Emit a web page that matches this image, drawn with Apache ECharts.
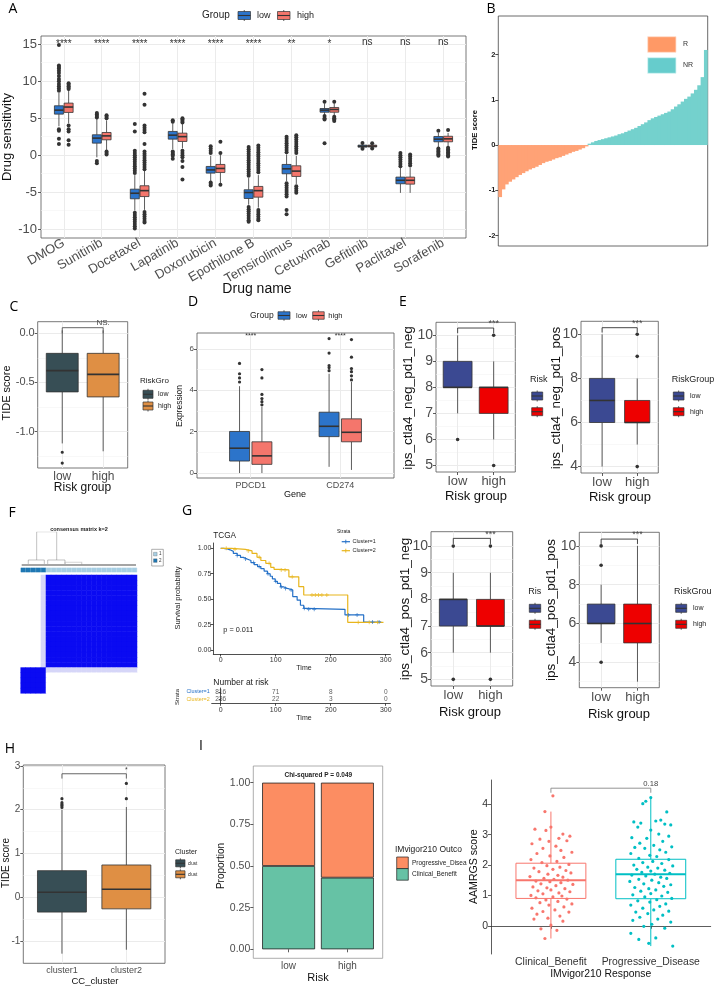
<!DOCTYPE html>
<html>
<head>
<meta charset="utf-8">
<script src="https://cdn.jsdelivr.net/npm/echarts@6/dist/echarts.min.js"></script>
<style>
html, body { margin: 0; padding: 0; background: #fff; }
#main { width: 714px; height: 987px; }
</style>
</head>
<body>
<div id="main"></div>
<script>
// ---------- A: drug sensitivity by group ----------
var drugNames = ['DMOG', 'Sunitinib', 'Docetaxel', 'Lapatinib', 'Doxorubicin', 'Epothilone B',
  'Temsirolimus', 'Cetuximab', 'Gefitinib', 'Paclitaxel', 'Sorafenib'];
var drugTicks = [-10, -5, 0, 5, 10, 15];
var drugMinor = [-7.5, -2.5, 2.5, 7.5, 12.5];
// [min, q1, median, q3, max]
var drugLow = [
  [3.9, 5.54, 6.08, 6.67, 8.4], [-0.3, 1.62, 2.3, 2.75, 4.9], [-7.5, -5.9, -5.15, -4.6, -2.7],
  [0.8, 2.16, 2.7, 3.2, 4.3], [-3.5, -2.43, -2.0, -1.53, -0.1], [-6.7, -5.86, -5.05, -4.68, -3.1],
  [-3.5, -2.52, -1.85, -1.26, 0.1], [5.4, 5.8, 6.08, 6.3, 7.0], [0.95, 1.08, 1.2, 1.35, 1.5],
  [-5.1, -3.87, -3.4, -2.97, -1.7], [1.1, 1.8, 2.16, 2.52, 3.0]
];
var drugHigh = [
  [4.3, 5.77, 6.5, 7.03, 8.8], [0.7, 2.07, 2.6, 3.06, 4.7], [-7.4, -5.6, -4.8, -4.14, -2.0],
  [0.9, 1.85, 2.5, 2.97, 4.2], [-3.8, -2.34, -1.8, -1.26, 0.1], [-7.1, -5.68, -4.8, -4.23, -2.7],
  [-3.9, -2.88, -2.16, -1.44, -0.1], [5.4, 5.8, 6.17, 6.44, 7.0], [0.95, 1.1, 1.22, 1.35, 1.5],
  [-5.1, -3.92, -3.4, -2.97, -1.7], [1.1, 1.8, 2.2, 2.55, 3.0]
];
var drugLowOut = [
  [0, 14.9], [0, 12.1], [0, 11.9], [0, 11.7], [0, 11.4], [0, 11.1], [0, 10.7], [0, 10.3], [0, 10.0], [0, 9.6], [0, 9.3], [0, 9.0], [0, 8.7], [0, 3.5], [0, 3.3], [0, 2.2], [0, 1.5],
  [1, 5.7], [1, 5.5], [1, 5.3], [1, 5.1], [1, -0.8], [1, -1.1],
  [2, 4.2], [2, 3.2], [2, 0.6], [2, 0.3], [2, 0.0], [2, -0.3], [2, -0.6], [2, -0.9], [2, -1.2], [2, -1.5], [2, -1.8], [2, -2.1], [2, -2.4],
  [2, -7.8], [2, -8.1], [2, -8.4], [2, -8.7], [2, -9.0], [2, -9.3], [2, -9.6], [2, -9.9],
  [3, 4.7], [3, 4.5], [3, 0.5], [3, 0.3], [3, 0.1], [3, -0.1], [3, -0.5],
  [4, 1.2], [4, 0.9], [4, 0.6], [4, 0.3], [4, -3.7], [4, -3.9], [4, -4.1],
  [5, 1.1], [5, 0.8], [5, 0.5], [5, 0.2], [5, -0.1], [5, -0.4], [5, -0.7], [5, -1.0], [5, -1.3], [5, -1.6], [5, -1.9], [5, -2.2], [5, -2.5], [5, -2.8],
  [5, -7.0], [5, -7.3], [5, -7.6], [5, -7.9], [5, -8.2], [5, -8.5], [5, -8.8], [5, -9.0],
  [6, 2.5], [6, 2.2], [6, 1.9], [6, 1.6], [6, 1.3], [6, 1.0], [6, 0.7], [6, 0.4],
  [6, -3.8], [6, -4.1], [6, -4.4], [6, -4.7], [6, -5.0], [6, -5.3], [6, -5.6], [6, -7.4], [6, -8.0],
  [7, 7.2], [7, 5.3], [7, 5.0], [7, 4.8], [7, 1.6],
  [8, 1.65], [8, 0.85],
  [9, 0.3], [9, 0.0], [9, -0.3], [9, -0.6], [9, -0.9], [9, -1.2], [9, -1.5],
  [10, 3.3], [10, 0.9], [10, 0.7], [10, 0.5], [10, 0.3], [10, 0.1], [10, -0.1]
];
var drugHighOut = [
  [0, 9.7], [0, 9.5], [0, 9.3], [0, 9.1], [0, 8.95], [0, 4.0], [0, 3.5], [0, 3.2], [0, 2.0], [0, 1.4],
  [1, 5.4], [1, 5.2], [1, 5.0], [1, 0.5], [1, 0.3], [1, 0.1],
  [2, 8.3], [2, 6.8], [2, 4.0], [2, 3.7], [2, 3.4], [2, 3.1], [2, 1.5], [2, 0.5], [2, 0.2], [2, -0.1], [2, -0.4], [2, -0.7], [2, -1.0], [2, -1.3], [2, -1.6], [2, -1.9],
  [2, -7.7], [2, -8.0], [2, -8.3], [2, -8.6], [2, -8.9], [2, -9.1],
  [3, 5.0], [3, 4.8], [3, 4.6], [3, 4.4], [3, 0.6], [3, 0.3], [3, 0.0], [3, -0.3], [3, -0.8], [3, -1.6], [3, -3.3],
  [4, 1.8], [4, 0.3], [4, -4.0],
  [5, 1.3], [5, 1.0], [5, 0.7], [5, 0.4], [5, 0.1], [5, -0.2], [5, -0.5], [5, -0.8], [5, -1.1], [5, -1.4], [5, -1.7], [5, -2.0], [5, -2.3],
  [5, -7.4], [5, -7.7], [5, -8.0], [5, -8.3], [5, -8.6], [5, -8.8],
  [6, 2.7], [6, 2.4], [6, 2.1], [6, 1.8], [6, 1.5], [6, 1.2], [6, 0.9], [6, 0.6], [6, 0.3],
  [6, -4.2], [6, -4.5], [6, -4.8], [6, -5.1],
  [7, 7.2], [7, 5.2], [7, 5.0], [7, 4.8], [7, 4.6],
  [8, 1.6], [8, 0.9],
  [9, 0.1], [9, -0.2], [9, -0.5], [9, -0.8], [9, -1.1], [9, -1.4],
  [10, 3.4], [10, 1.0], [10, 0.8], [10, 0.6], [10, 0.4], [10, 0.2], [10, 0.0], [10, -0.2]
];
var drugSig = ['****', '****', '****', '****', '****', '****', '**', '*', 'ns', 'ns', 'ns'];
var drugSigY = [15.0, 15.0, 15.0, 15.0, 15.0, 15.0, 15.0, 15.0, 15.2, 15.2, 15.2];

// ---------- B: TIDE waterfall ----------
var tideR = [-1.15, -0.98, -0.87, -0.81, -0.76, -0.71, -0.66, -0.62, -0.58, -0.54, -0.51, -0.48, -0.44, -0.40,
  -0.37, -0.35, -0.32, -0.29, -0.27, -0.24, -0.21, -0.18, -0.15, -0.13, -0.10, -0.07, -0.03];
var tideNR = [0.03, 0.06, 0.09, 0.11, 0.13, 0.15, 0.17, 0.19, 0.21, 0.24, 0.26, 0.29, 0.32, 0.35, 0.38, 0.42,
  0.46, 0.50, 0.55, 0.59, 0.62, 0.65, 0.68, 0.71, 0.74, 0.79, 0.85, 0.90, 0.96, 1.02, 1.07, 1.14, 1.22, 1.32, 1.50, 2.10];
var tideTicks = [-2, -1, 0, 1, 2];

// ---------- C: TIDE by risk group ----------
var riskCats = ['low', 'high'];
var cStats = [[-1.12, -0.596, -0.38, -0.204, 0.03], [-1.2, -0.647, -0.418, -0.204, 0.03]];
var cOut = [[0, -1.21], [0, -1.32]];
var cTicks = [-1, -0.5, 0];
var cMinor = [-1.25, -0.75, -0.25];

// ---------- D: checkpoint expression ----------
var geneCats = ['PDCD1', 'CD274'];
var dLow = [[0.0, 0.58, 1.2, 2.01, 4.2], [0.3, 1.76, 2.26, 2.94, 4.8]];
var dHigh = [[0.0, 0.42, 0.83, 1.51, 3.2], [0.15, 1.51, 1.97, 2.62, 4.4]];
var dLowOut = [[0, 4.4], [0, 4.6], [0, 4.8], [0, 5.3], [1, 4.95], [1, 5.1], [1, 5.2], [1, 5.8], [1, 6.5]];
var dHighOut = [[0, 3.3], [0, 3.45], [0, 3.6], [0, 3.8], [0, 4.6], [0, 5.0], [1, 4.5], [1, 4.7], [1, 4.9], [1, 5.05], [1, 5.6], [1, 6.45]];
var dTicks = [0, 2, 4, 6];
var dMinor = [1, 3, 5];

// ---------- E: IPS scores ----------
var e1Stats = [[7, 8, 8, 9, 10], [6, 7, 8, 8, 9]];
var e1Out = [[0, 6], [1, 10], [1, 5]];
var e2Stats = [[4, 6, 7, 8, 10], [5, 6, 6, 7, 8]];
var e2Out = [[1, 10], [1, 9], [1, 4]];
var e3Stats = [[6, 7, 8, 8, 9], [6, 7, 7, 8, 9]];
var e3Out = [[0, 10], [0, 5], [1, 10], [1, 5]];
var e4Stats = [[5, 6, 6, 7, 8], [3, 5, 6, 7, 10]];
var e4Out = [[0, 10], [0, 9], [0, 4]];
var eTicks1 = [5, 6, 7, 8, 9, 10];
var eMinor1 = [5.5, 6.5, 7.5, 8.5, 9.5];
var eTicks2 = [4, 6, 8, 10];
var eMinor2 = [3, 5, 7, 9];

// ---------- F: consensus matrix (0 white, 1 blue, 2 pale) ----------
var consRows = [
  '00002111111111111111111', '00002111111111111111111', '00002111111111111111111', '00002111111111111111111',
  '00002111111111111111111', '00002111111111111111111', '00002111111111111111111', '00002111111111111111111',
  '00002111111111111111111', '00002111111111111111111', '00002111111111111111111', '00002111111111111111111',
  '00002111111111111111111', '00002111111111111111111', '00002111111111111111111', '00002111111111111111111',
  '00002111111111111111111', '00002111111111111111111', '11111222222222222222222', '11111000000000000000000',
  '11111000000000000000000', '11111000000000000000000', '11111000000000000000000'
];
var consCluster = [2, 2, 2, 2, 2, 1, 1, 1, 1, 1, 1, 1, 1, 1, 1, 1, 1, 1, 1, 1, 1, 1, 1];
// dendrogram polylines in [leaf position, height]
var dendroTop = [[3.16, 0.175], [3.16, 1.0], [7.12, 1.0], [7.12, 0.175]];
var dendroLeft = [[1.5, 0.06], [1.5, 0.175], [4.67, 0.175], [4.67, 0.06]];
var dendroRight = [[5.34, 0.06], [5.34, 0.175], [8.76, 0.175], [8.76, 0.06]];
var dendroGray = [[8.76, 0.06], [8.76, 0.11], [12.06, 0.11], [12.06, 0.05]];
var dendroBase = [[0.2, 0.03], [22.8, 0.03]];

// ---------- G: survival ----------
var km1 = [[0, 1], [5, 0.995], [11, 0.985], [17, 0.97], [23, 0.95], [30, 0.93], [36, 0.91], [42, 0.895], [48, 0.88],
  [55, 0.86], [61, 0.84], [67, 0.82], [73, 0.80], [79, 0.775], [85, 0.75], [90, 0.725], [94, 0.70], [99, 0.675],
  [103, 0.655], [109, 0.62], [115, 0.606], [121, 0.597], [127, 0.59], [131, 0.525], [139, 0.49], [145, 0.44],
  [151, 0.41], [155, 0.40], [226, 0.345], [260, 0.275], [292, 0.275]];
var km2 = [[0, 1], [20, 0.99], [45, 0.974], [57, 0.95], [66, 0.912], [73, 0.88], [82, 0.852], [91, 0.813],
  [97, 0.793], [106, 0.787], [124, 0.72], [142, 0.623], [151, 0.541], [231, 0.272], [296, 0.272]];
var km1Cens = [[30, 0.93], [45, 0.895], [60, 0.86], [70, 0.82], [86, 0.75], [100, 0.675], [110, 0.62], [118, 0.606],
  [128, 0.59], [152, 0.41], [160, 0.40], [170, 0.40], [232, 0.345], [248, 0.345], [276, 0.275], [288, 0.275]];
var km2Cens = [[10, 1.0], [26, 0.99], [50, 0.974], [70, 0.912], [88, 0.852], [110, 0.787], [117, 0.787], [130, 0.72],
  [166, 0.541], [172, 0.541], [178, 0.541], [184, 0.541], [193, 0.541], [250, 0.272], [270, 0.272], [285, 0.272]];
var kmTicksX = [0, 100, 200, 300];
var kmTicksY = [0, 0.25, 0.5, 0.75, 1];
var riskTimes = [0, 100, 200, 300];
var risk1 = [816, 71, 8, 0];
var risk2 = [236, 22, 3, 0];
var strataNames = ['Cluster=2', 'Cluster=1'];

// ---------- H: TIDE by consensus cluster ----------
var hCats = ['cluster1', 'cluster2'];
var hStats = [[-1.29, -0.34, 0.113, 0.606, 2.0], [-1.2, -0.266, 0.182, 0.736, 2.06]];
var hOut = [[0, 2.05], [0, 2.09], [0, 2.12], [0, 2.16], [0, 2.25], [1, 2.25], [1, 2.6]];
var hTicks = [-1, 0, 1, 2, 3];
var hMinor = [-0.5, 0.5, 1.5, 2.5];

// ---------- I: IMvigor210 ----------
var iBenefit = [0.5, 0.43];
var iProgress = [0.5, 0.57];
var iTicks = [0, 0.25, 0.5, 0.75, 1];
var respCats = ['Clinical_Benefit', 'Progressive_Disease'];
var respStats = [[-0.42, 0.9, 1.5, 2.06, 3.76], [-0.67, 0.89, 1.7, 2.19, 4.25]];
var respTicks = [0, 1, 2, 3, 4];
// jittered points: [x offset, score]
var cbJitter = [[0.02, 4.28], [-0.06, 3.76], [-0.16, 3.18], [-0.05, 3.14], [0.0, 3.25], [0.12, 3.02], [0.19, 2.95],
  [0.08, 2.88], [-0.11, 2.85], [-0.02, 2.78], [0.16, 2.8], [-0.19, 2.7], [0.05, 2.62], [-0.08, 2.55], [0.1, 2.48],
  [0.21, 2.42], [-0.14, 2.38], [-0.01, 2.3], [0.13, 2.25], [-0.2, 2.18], [0.06, 2.12], [-0.09, 2.08], [0.18, 2.02],
  [-0.04, 1.98], [0.09, 1.93], [-0.17, 1.9], [0.02, 1.86], [0.15, 1.82], [-0.12, 1.78], [0.2, 1.74], [-0.03, 1.7],
  [0.07, 1.66], [-0.21, 1.62], [0.12, 1.6], [-0.07, 1.56], [0.03, 1.53], [0.17, 1.5], [-0.15, 1.47], [-0.01, 1.45],
  [0.1, 1.42], [-0.1, 1.38], [0.22, 1.36], [0.05, 1.32], [-0.18, 1.28], [-0.04, 1.25], [0.14, 1.22], [0.0, 1.18],
  [-0.13, 1.15], [0.19, 1.12], [0.08, 1.08], [-0.08, 1.05], [-0.2, 1.0], [0.11, 0.98], [0.02, 0.95], [-0.15, 0.92],
  [0.16, 0.88], [-0.05, 0.85], [0.07, 0.8], [-0.11, 0.76], [0.21, 0.72], [-0.02, 0.68], [0.13, 0.62], [-0.19, 0.58],
  [0.04, 0.52], [-0.08, 0.47], [0.18, 0.45], [-0.14, 0.38], [0.09, 0.32], [-0.03, 0.25], [-0.17, 0.22], [0.12, 0.15],
  [0.0, 0.02], [-0.1, -0.1], [0.06, -0.15], [-0.06, -0.42]];
var pdJitter = [[0.0, 4.22], [-0.05, 4.1], [-0.08, 4.02], [0.16, 3.75], [-0.17, 3.42], [-0.1, 3.38], [0.1, 3.48],
  [0.05, 3.45], [0.14, 3.35], [0.2, 3.32], [-0.13, 3.25], [0.0, 3.15], [0.08, 3.02], [-0.19, 2.9], [0.18, 2.95],
  [-0.04, 2.88], [0.12, 2.78], [-0.11, 2.72], [0.03, 2.65], [0.21, 2.6], [-0.16, 2.58], [-0.06, 2.55], [0.09, 2.5],
  [0.15, 2.42], [-0.2, 2.38], [-0.01, 2.32], [0.06, 2.28], [-0.12, 2.22], [0.18, 2.18], [0.02, 2.12], [-0.08, 2.08],
  [0.11, 2.05], [-0.17, 2.0], [0.22, 1.97], [-0.03, 1.93], [0.07, 1.9], [-0.14, 1.86], [0.14, 1.83], [0.0, 1.8],
  [-0.09, 1.76], [0.19, 1.73], [0.04, 1.7], [-0.19, 1.67], [-0.05, 1.64], [0.1, 1.6], [0.16, 1.56], [-0.12, 1.53],
  [0.01, 1.5], [-0.21, 1.46], [0.08, 1.42], [-0.07, 1.38], [0.2, 1.35], [0.13, 1.3], [-0.16, 1.26], [-0.02, 1.22],
  [0.05, 1.18], [-0.1, 1.14], [0.17, 1.1], [0.0, 1.06], [-0.18, 1.02], [0.11, 0.98], [-0.06, 0.95], [0.21, 0.9],
  [0.06, 0.86], [-0.13, 0.82], [-0.01, 0.78], [0.15, 0.72], [-0.2, 0.68], [0.09, 0.64], [-0.08, 0.58], [0.03, 0.52],
  [0.18, 0.48], [-0.15, 0.45], [-0.03, 0.4], [0.12, 0.35], [-0.11, 0.28], [0.07, 0.22], [-0.18, 0.18], [0.2, 0.12],
  [0.01, 0.05], [-0.07, -0.02], [0.14, -0.08], [-0.2, -0.25], [0.05, -0.4], [-0.12, -0.45], [-0.02, -0.58], [0.22, -0.67]];

// ---------- colours ----------
var FONT = '"Liberation Sans", Arial, sans-serif';
var LETTER = '"Open Sans", "Noto Sans", sans-serif';
var colLow = '#2C74CA', colHigh = '#F4766C';
var jamaDark = '#374E55', jamaOrange = '#DF8F44';
var aaasBlue = '#3B4992', aaasRed = '#EE0000';
var kmBlue = '#2470C7', kmYellow = '#E8B51C';

var grids = [], xAxes = [], yAxes = [], series = [], graphics = [], visualMaps = [];

function gridLines(xi, yi, d) {
  series.push({type: 'line', xAxisIndex: xi, yAxisIndex: yi, data: [], z: 1, silent: true,
    markLine: {silent: true, z: 1, symbol: ['none', 'none'], label: {show: false}, animation: false, data: d}});
}

function panel(o) {
  var W = o.right - o.left, H = o.bottom - o.top, p = {};
  p.bg = grids.length;
  grids.push({left: o.left, top: o.top, width: W, height: H, show: !!o.border,
    borderColor: o.borderColor || '#555', borderWidth: 0.8, backgroundColor: 'transparent'});
  xAxes.push({type: 'value', gridIndex: p.bg, min: 0, max: 1, show: !!o.xLine,
    axisLine: {show: !!o.xLine, lineStyle: {color: '#333', width: 0.8}},
    axisTick: {show: false}, axisLabel: {show: false}, splitLine: {show: false}});
  yAxes.push({type: 'value', gridIndex: p.bg, min: o.ymin, max: o.ymax,
    axisLine: {show: !!o.yLine, lineStyle: {color: '#333', width: 0.8}},
    axisTick: {show: true, customValues: o.ticks, length: o.tickLen || 3, lineStyle: {color: '#333', width: 0.8}},
    axisLabel: {show: true, customValues: o.ticks, formatter: o.fmt || function (v) { return String(v); },
      fontSize: o.yfs, color: o.labelColor || '#4D4D4D', margin: o.ym || 3, fontFamily: FONT, fontWeight: o.yWeight || 'normal'},
    splitLine: {show: false}});
  if (o.cats) {
    var n = o.cats.length, unit = W / (n + 0.2);
    p.fg = grids.length;
    grids.push({left: o.left + 0.1 * unit, top: o.top, width: n * unit, height: H, show: false});
    xAxes.push({type: 'category', gridIndex: p.fg, data: o.cats,
      axisLine: {show: false},
      axisTick: {show: true, alignWithLabel: true, length: o.tickLen || 3, lineStyle: {color: '#333', width: 0.8}},
      axisLabel: {interval: 0, rotate: o.rotate || 0, fontSize: o.xfs, color: o.labelColor || '#4D4D4D',
        margin: o.xm || 3, fontFamily: FONT},
      splitLine: {show: false}});
    yAxes.push({type: 'value', gridIndex: p.fg, min: o.ymin, max: o.ymax, show: false});
  }
  if (o.hgrid) {
    var d = [];
    (o.minor || []).forEach(function (v) { d.push({yAxis: v, lineStyle: {color: '#F4F4F4', width: 0.6, type: 'solid'}}); });
    o.ticks.forEach(function (v) { d.push({yAxis: v, lineStyle: {color: '#EBEBEB', width: 1, type: 'solid'}}); });
    gridLines(p.bg, p.bg, d);
  }
  if (o.vgrid) {
    gridLines(p.fg, p.fg, o.cats.map(function (c) { return {xAxis: c, lineStyle: {color: '#EBEBEB', width: 1, type: 'solid'}}; }));
  }
  return p;
}

// boxes: fills is one {fill, stroke} per category, or a single one for all
function boxes(p, stats, off, wf, fills, lw) {
  series.push({type: 'custom', xAxisIndex: p.fg, yAxisIndex: p.fg, z: 3, silent: true,
    data: stats.map(function (s, i) { return [i, s[0], s[1], s[2], s[3], s[4]]; }),
    renderItem: function (params, api) {
      var i = api.value(0), band = api.size([1, 0])[0];
      var cx = api.coord([i, api.value(3)])[0] + off * band, hw = wf * band / 2;
      var y = [1, 2, 3, 4, 5].map(function (k) { return api.coord([i, api.value(k)])[1]; });
      var f = fills.length ? fills[params.dataIndex] : fills;
      var st = f.stroke || '#333';
      return {type: 'group', children: [
        {type: 'line', shape: {x1: cx, y1: y[0], x2: cx, y2: y[1]}, style: {stroke: st, lineWidth: lw}},
        {type: 'line', shape: {x1: cx, y1: y[3], x2: cx, y2: y[4]}, style: {stroke: st, lineWidth: lw}},
        {type: 'rect', shape: {x: cx - hw, y: y[3], width: 2 * hw, height: y[1] - y[3]},
          style: {fill: f.fill, stroke: st, lineWidth: lw}},
        {type: 'line', shape: {x1: cx - hw, y1: y[2], x2: cx + hw, y2: y[2]}, style: {stroke: st, lineWidth: lw * 2}}
      ]};
    }});
}

function dots(p, pts, off, color, r) {
  series.push({type: 'custom', xAxisIndex: p.fg, yAxisIndex: p.fg, z: 4, silent: true, data: pts,
    renderItem: function (params, api) {
      var band = api.size([1, 0])[0];
      var dx = api.value(2);
      if (!isFinite(dx)) dx = 0;
      var c = api.coord([api.value(0), api.value(1)]);
      return {type: 'circle', shape: {cx: c[0] + (off + dx) * band, cy: c[1], r: r}, style: {fill: color}};
    }});
}

function sigText(p, pts, texts, fs, color) {
  series.push({type: 'custom', xAxisIndex: p.fg, yAxisIndex: p.fg, z: 5, silent: true, data: pts,
    renderItem: function (params, api) {
      var c = api.coord([api.value(0), api.value(1)]);
      return {type: 'text', x: c[0], y: c[1], style: {text: texts[params.dataIndex], fill: color,
        font: fs + 'px ' + FONT, textAlign: 'center', textVerticalAlign: 'middle', align: 'center', verticalAlign: 'middle'}};
    }});
}

function bracket(p, yTop, yBot, color) {
  series.push({type: 'custom', xAxisIndex: p.fg, yAxisIndex: p.fg, z: 5, silent: true, data: [[0, yTop, yBot]],
    renderItem: function (params, api) {
      var a = api.coord([0, api.value(1)]), b = api.coord([1, api.value(1)]);
      var yb = api.coord([0, api.value(2)])[1];
      return {type: 'polyline', shape: {points: [[a[0], yb], [a[0], a[1]], [b[0], b[1]], [b[0], yb]]},
        style: {stroke: color, lineWidth: 0.9, fill: null}};
    }});
}

function T(x, y, s, fs, o) {
  o = o || {};
  graphics.push({type: 'text', x: x, y: y, rotation: o.rot || 0, z: 100, silent: true,
    style: {text: s, fill: o.color || '#000', font: (o.weight || 'normal') + ' ' + fs + 'px ' + (o.family || FONT),
      textAlign: o.align || 'center', textVerticalAlign: 'middle', align: o.align || 'center', verticalAlign: 'middle'}});
}
function R(x, y, w, h, fill, stroke, lw) {
  graphics.push({type: 'rect', z: 100, silent: true, shape: {x: x, y: y, width: w, height: h},
    style: {fill: fill, stroke: stroke || null, lineWidth: lw || 0}});
}
function L(x1, y1, x2, y2, stroke, lw) {
  graphics.push({type: 'line', z: 100, silent: true, shape: {x1: x1, y1: y1, x2: x2, y2: y2},
    style: {stroke: stroke, lineWidth: lw || 1}});
}
function boxKey(x, yc, w, h, fill) {
  L(x + w / 2, yc - h / 2 - 1.5, x + w / 2, yc + h / 2 + 1.5, '#333', 0.8);
  R(x, yc - h / 2, w, h, fill, '#333', 0.7);
  L(x, yc, x + w, yc, '#333', 1.1);
}
var rot = Math.PI / 2;
function f1(v) { return v.toFixed(1); }
function f2(v) { return v.toFixed(2); }

// ===== A =====
var pA = panel({left: 41, right: 466, top: 36, bottom: 238, cats: drugNames, ymin: -11.2, ymax: 16.1,
  ticks: drugTicks, minor: drugMinor, hgrid: true, vgrid: true, border: true, yfs: 13, xfs: 13, rotate: 30, ym: 4, xm: 4});
boxes(pA, drugLow, -0.128, 0.237, {fill: colLow}, 0.8);
boxes(pA, drugHigh, 0.128, 0.237, {fill: colHigh}, 0.8);
dots(pA, drugLowOut, -0.128, '#333', 2);
dots(pA, drugHighOut, 0.128, '#333', 2);
sigText(pA, drugSig.map(function (s, i) { return [i, drugSigY[i]]; }), drugSig, 10, '#333');

// ===== B =====
var bIdx = grids.length;
grids.push({left: 498.3, top: 16, width: 209.4, height: 230, show: true, borderColor: '#444', borderWidth: 0.8});
xAxes.push({type: 'category', gridIndex: bIdx, data: tideR.concat(tideNR).map(function (v, i) { return i; }), show: false});
yAxes.push({type: 'value', gridIndex: bIdx, min: -2.23, max: 2.85,
  axisLine: {show: false}, splitLine: {show: false},
  axisTick: {show: true, customValues: tideTicks, length: 3, lineStyle: {color: '#222', width: 0.8}},
  axisLabel: {customValues: tideTicks, fontSize: 7.5, fontWeight: 'bold', color: '#222', margin: 3, fontFamily: FONT}});
series.push({type: 'bar', xAxisIndex: bIdx, yAxisIndex: bIdx, barWidth: 4.2, barGap: '-100%', silent: true,
  itemStyle: {color: '#FFA276'},
  data: tideR.concat(tideNR.map(function () { return '-'; }))});
series.push({type: 'bar', xAxisIndex: bIdx, yAxisIndex: bIdx, barWidth: 4.2, barGap: '-100%', silent: true,
  itemStyle: {color: '#74D1CD'},
  data: tideR.map(function () { return '-'; }).concat(tideNR)});

// ===== C =====
var pC = panel({left: 37.7, right: 127.7, top: 321.7, bottom: 468, cats: riskCats, ymin: -1.37, ymax: 0.118,
  ticks: cTicks, minor: cMinor, hgrid: true, vgrid: true, border: true, yfs: 11, xfs: 12, fmt: f1, ym: 3, xm: 3});
boxes(pC, cStats, 0, 0.78, [{fill: jamaDark}, {fill: jamaOrange}], 0.8);
dots(pC, cOut, 0, '#333', 1.6);
bracket(pC, 0.057, 0.0, '#555');
sigText(pC, [[0.5, 0.108]], ['NS.'], 8, '#444');

// ===== D =====
var pD = panel({left: 197, right: 394, top: 333, bottom: 478, cats: geneCats, ymin: -0.24, ymax: 6.77,
  ticks: dTicks, minor: dMinor, hgrid: true, vgrid: true, border: true, yfs: 8, xfs: 9, ym: 3, xm: 3});
boxes(pD, dLow, -0.125, 0.223, {fill: colLow}, 0.8);
boxes(pD, dHigh, 0.125, 0.223, {fill: colHigh}, 0.8);
dots(pD, dLowOut, -0.125, '#333', 1.6);
dots(pD, dHighOut, 0.125, '#333', 1.6);
sigText(pD, [[0, 6.63], [1, 6.63]], ['****', '****'], 7, '#333');

// ===== E =====
var eFills = [{fill: aaasBlue}, {fill: aaasRed}];
function ePanel(box, stats, out, ticks, minor, ymin, ymax, wf, bTop, bBot, sigY) {
  var p = panel({left: box[0], right: box[1], top: box[2], bottom: box[3], cats: riskCats, ymin: ymin, ymax: ymax,
    ticks: ticks, minor: minor, hgrid: true, vgrid: true, border: true, yfs: 14, xfs: 13, ym: 3, xm: 3});
  boxes(p, stats, 0, wf, eFills, 0.8);
  dots(p, out, 0, '#333', 1.8);
  bracket(p, bTop, bBot, '#333');
  sigText(p, [[0.5, sigY]], ['***'], 9, '#444');
  return p;
}
ePanel([436, 515.3, 322.3, 472], e1Stats, e1Out, eTicks1, eMinor1, 4.75, 10.5, 0.8, 10.28, 10.08, 10.45);
ePanel([581, 658.3, 321.3, 473], e2Stats, e2Out, eTicks2, eMinor2, 3.71, 10.59, 0.72, 10.3, 10.08, 10.49);
ePanel([431, 512.7, 531.7, 686], e3Stats, e3Out, eTicks1, eMinor1, 4.75, 10.54, 0.75, 10.29, 10.08, 10.45);
ePanel([579.3, 659.3, 532.3, 687.7], e4Stats, e4Out, eTicks2, eMinor2, 2.69, 10.7, 0.76, 10.35, 10.1, 10.58);

// ===== F =====
var fDen = grids.length;
grids.push({left: 20.7, top: 531.7, width: 116.3, height: 34.3, show: false});
xAxes.push({type: 'value', gridIndex: fDen, min: 0, max: 23, show: false});
yAxes.push({type: 'value', gridIndex: fDen, min: 0, max: 1, show: false});
series.push({type: 'lines', coordinateSystem: 'cartesian2d', xAxisIndex: fDen, yAxisIndex: fDen, polyline: true, silent: true, z: 3,
  data: [
    {coords: dendroTop, lineStyle: {color: '#666', width: 0.8}},
    {coords: dendroLeft, lineStyle: {color: '#666', width: 0.8}},
    {coords: dendroRight, lineStyle: {color: '#666', width: 0.8}},
    {coords: dendroGray, lineStyle: {color: '#AAA', width: 1.2}},
    {coords: dendroBase, lineStyle: {color: '#111', width: 1.6}}
  ]});
var fBar = grids.length;
grids.push({left: 20.7, top: 567.7, width: 116.3, height: 4.6, show: false});
xAxes.push({type: 'category', gridIndex: fBar, data: consCluster.map(function (c, i) { return i; }), show: false});
yAxes.push({type: 'value', gridIndex: fBar, min: 0, max: 1, show: false});
series.push({type: 'bar', xAxisIndex: fBar, yAxisIndex: fBar, barCategoryGap: '0%', silent: true,
  data: consCluster.map(function (c) {
    var col = c === 2 ? '#1F78B4' : '#A6CEE3';
    return {value: 1, itemStyle: {color: col, borderColor: col, borderWidth: 0.4}};
  })});
var fHeat = grids.length;
grids.push({left: 20.7, top: 575, width: 116.3, height: 118.3, show: false});
xAxes.push({type: 'category', gridIndex: fHeat, data: consCluster.map(function (c, i) { return i; }), show: false});
yAxes.push({type: 'category', gridIndex: fHeat, data: consRows.map(function (r, i) { return i; }), inverse: true, show: false});
var heatData = [];
consRows.forEach(function (row, r) {
  for (var c = 0; c < row.length; c++) heatData.push([c, r, Number(row[c])]);
});
visualMaps.push({type: 'piecewise', show: false, dimension: 2, seriesIndex: series.length,
  pieces: [{value: 0, color: '#FFFFFF'}, {value: 1, color: '#0A0AF2'}, {value: 2, color: '#D6D6F8'}]});
series.push({type: 'heatmap', xAxisIndex: fHeat, yAxisIndex: fHeat, data: heatData, silent: true,
  itemStyle: {borderWidth: 0}});

// ===== G =====
var gKM = grids.length;
grids.push({left: 213.3, top: 543, width: 177, height: 111, show: false});
xAxes.push({type: 'value', gridIndex: gKM, min: -13.45, max: 308.4,
  axisLine: {show: true, onZero: false, lineStyle: {color: '#222', width: 0.8}},
  axisTick: {show: true, customValues: kmTicksX, length: 2.5, lineStyle: {color: '#222', width: 0.8}},
  axisLabel: {customValues: kmTicksX, fontSize: 7, color: '#333', margin: 3, fontFamily: FONT}, splitLine: {show: false}});
yAxes.push({type: 'value', gridIndex: gKM, min: -0.039, max: 1.052,
  axisLine: {show: true, onZero: false, lineStyle: {color: '#222', width: 0.8}},
  axisTick: {show: true, customValues: kmTicksY, length: 2.5, lineStyle: {color: '#222', width: 0.8}},
  axisLabel: {customValues: kmTicksY, formatter: f2, fontSize: 7, color: '#333', margin: 2, fontFamily: FONT},
  splitLine: {show: false}});
var censSymbol = 'path://M4,0H6V10H4Z M0,4H10V6H0Z';
series.push({type: 'line', xAxisIndex: gKM, yAxisIndex: gKM, data: km1, step: 'end', showSymbol: false, silent: true,
  lineStyle: {color: kmBlue, width: 1.2}, z: 3});
series.push({type: 'line', xAxisIndex: gKM, yAxisIndex: gKM, data: km2, step: 'end', showSymbol: false, silent: true,
  lineStyle: {color: kmYellow, width: 1.2}, z: 3});
series.push({type: 'scatter', xAxisIndex: gKM, yAxisIndex: gKM, data: km1Cens, symbol: censSymbol, symbolSize: 4,
  itemStyle: {color: kmBlue}, silent: true, z: 4});
series.push({type: 'scatter', xAxisIndex: gKM, yAxisIndex: gKM, data: km2Cens, symbol: censSymbol, symbolSize: 4,
  itemStyle: {color: kmYellow}, silent: true, z: 4});

var gRisk = grids.length;
grids.push({left: 211.7, top: 688, width: 178.7, height: 15.3, show: false});
xAxes.push({type: 'value', gridIndex: gRisk, min: -16.36, max: 308.5,
  axisLine: {show: true, onZero: false, lineStyle: {color: '#222', width: 0.8}},
  axisTick: {show: true, customValues: kmTicksX, length: 2.5, lineStyle: {color: '#222', width: 0.8}},
  axisLabel: {customValues: kmTicksX, fontSize: 7, color: '#333', margin: 3, fontFamily: FONT}, splitLine: {show: false}});
yAxes.push({type: 'category', gridIndex: gRisk, data: strataNames,
  axisLine: {show: true, lineStyle: {color: '#222', width: 0.8}},
  axisTick: {show: true, length: 2, alignWithLabel: true, lineStyle: {color: '#222', width: 0.8}},
  axisLabel: {margin: 2, fontSize: 5.4, fontFamily: FONT,
    formatter: function (v) { return v === 'Cluster=1' ? '{a|' + v + '}' : '{b|' + v + '}'; },
    rich: {a: {color: kmBlue, fontSize: 5.4, fontFamily: FONT}, b: {color: kmYellow, fontSize: 5.4, fontFamily: FONT}}}});
series.push({type: 'scatter', xAxisIndex: gRisk, yAxisIndex: gRisk, symbolSize: 0, silent: true,
  data: riskTimes.map(function (t, i) { return [t, 1, risk1[i]]; }).concat(riskTimes.map(function (t, i) { return [t, 0, risk2[i]]; })),
  label: {show: true, position: 'inside', fontSize: 6.5, color: '#333', fontFamily: FONT,
    formatter: function (p) { return String(p.value[2]); }}});

// ===== H =====
var pH = panel({left: 23.3, right: 165, top: 765, bottom: 963.3, cats: hCats, ymin: -1.51, ymax: 3.02,
  ticks: hTicks, minor: hMinor, hgrid: true, vgrid: true, border: true, yfs: 10, xfs: 9, ym: 3, xm: 3});
boxes(pH, hStats, 0, 0.76, [{fill: jamaDark}, {fill: jamaOrange}], 0.8);
dots(pH, hOut, 0, '#333', 1.6);
bracket(pH, 2.82, 2.71, '#555');
sigText(pH, [[0.5, 2.9]], ['*'], 7, '#444');

// ===== I left: proportions =====
var pI = panel({left: 253.3, right: 382.7, top: 766, bottom: 958.3, cats: riskCats, ymin: -0.054, ymax: 1.1,
  ticks: iTicks, border: true, borderColor: '#999', yfs: 10.5, xfs: 10, fmt: f2, ym: 3, xm: 3});
series.push({type: 'bar', xAxisIndex: pI.fg, yAxisIndex: pI.fg, stack: 'prop', data: iBenefit, barCategoryGap: '10%', silent: true,
  itemStyle: {color: '#66C2A5', borderColor: '#222', borderWidth: 0.8}});
series.push({type: 'bar', xAxisIndex: pI.fg, yAxisIndex: pI.fg, stack: 'prop', data: iProgress, barCategoryGap: '10%', silent: true,
  itemStyle: {color: '#FC8D62', borderColor: '#222', borderWidth: 0.8}});

// ===== I right: AAMRGS score =====
var pJ = panel({left: 491, right: 710.7, top: 780, bottom: 954, cats: respCats, ymin: -0.93, ymax: 4.8,
  ticks: respTicks, border: false, yLine: true, xLine: true, yfs: 10.5, xfs: 10.4, labelColor: '#333', ym: 3, xm: 3});
boxes(pJ, respStats, 0, 0.7, [{fill: 'rgba(0,0,0,0)', stroke: '#F8766D'}, {fill: 'rgba(0,0,0,0)', stroke: '#00BFC4'}], 1);
dots(pJ, cbJitter.map(function (d) { return [0, d[1], d[0]]; }), 0, '#F8766D', 1.6);
dots(pJ, pdJitter.map(function (d) { return [1, d[1], d[0]]; }), 0, '#00BFC4', 1.6);
bracket(pJ, 4.53, 4.38, '#888');
sigText(pJ, [[0.5, 4.67]], ['0.18'], 7.7, '#444');

// ===== texts, legends, titles =====
T(13, 9, 'A', 14, {family: LETTER});
T(491, 9, 'B', 14, {family: LETTER});
T(14, 307, 'C', 14, {family: LETTER});
T(193, 302, 'D', 14, {family: LETTER});
T(403, 302, 'E', 14, {family: LETTER});
T(12, 513, 'F', 14, {family: LETTER});
T(187, 511, 'G', 14, {family: LETTER});
T(10, 749, 'H', 14, {family: LETTER});
T(201, 746, 'I', 14, {family: LETTER});

// A
T(7.5, 137, 'Drug sensitivity', 13, {rot: rot, color: '#111'});
T(257, 289, 'Drug name', 14, {color: '#111'});
T(202, 15.5, 'Group', 10, {align: 'left', color: '#222'});
boxKey(238, 15.5, 12.5, 8, colLow);
T(257, 15.5, 'low', 9, {align: 'left', color: '#222'});
boxKey(277.5, 15.5, 12.5, 8, colHigh);
T(297, 15.5, 'high', 9, {align: 'left', color: '#222'});

// B
T(475, 130, 'TIDE score', 7.7, {rot: rot, weight: 'bold', color: '#111'});
R(647.7, 36.7, 28.3, 15.6, '#FF9966', '#FFE0D0', 0.8);
R(647.7, 57.7, 28.3, 15.6, '#66CCCC', '#D8F4F4', 0.8);
T(683, 44.5, 'R', 7, {align: 'left', color: '#333'});
T(683, 65.5, 'NR', 7, {align: 'left', color: '#333'});

// C
T(7, 393, 'TIDE score', 11, {rot: rot, color: '#111'});
T(82.5, 488, 'Risk group', 12, {color: '#111'});
T(140, 380.7, 'RiskGro', 8, {align: 'left', color: '#222'});
boxKey(143, 394.3, 10, 8, jamaDark);
boxKey(143, 406, 10, 8, jamaOrange);
T(158, 394.3, 'low', 7, {align: 'left', color: '#222'});
T(158, 406, 'high', 7, {align: 'left', color: '#222'});

// D
T(180, 406, 'Expression', 8.5, {rot: rot, color: '#111'});
T(295, 495, 'Gene', 9, {color: '#111'});
T(250, 315.5, 'Group', 8.5, {align: 'left', color: '#222'});
boxKey(278, 315.5, 12, 7.5, colLow);
T(296, 315.5, 'low', 7.5, {align: 'left', color: '#222'});
boxKey(312.7, 315.5, 11.5, 7.5, colHigh);
T(328.3, 315.5, 'high', 7.5, {align: 'left', color: '#222'});

// E
T(408, 398, 'ips_ctla4_neg_pd1_neg', 13.5, {rot: rot, color: '#111'});
T(556.7, 398, 'ips_ctla4_neg_pd1_pos', 13.5, {rot: rot, color: '#111'});
T(405, 609, 'ips_ctla4_pos_pd1_neg', 13.5, {rot: rot, color: '#111'});
T(551.7, 610, 'ips_ctla4_pos_pd1_pos', 13.5, {rot: rot, color: '#111'});
T(476, 496, 'Risk group', 13, {color: '#111'});
T(620, 497.5, 'Risk group', 13, {color: '#111'});
T(470, 712.5, 'Risk group', 13, {color: '#111'});
T(619, 714, 'Risk group', 13, {color: '#111'});
T(530, 379.3, 'Risk', 9, {align: 'left', color: '#222'});
boxKey(531.7, 396, 11, 8, aaasBlue);
boxKey(531.7, 411.7, 11, 8, aaasRed);
T(671.7, 380, 'RiskGroup', 9, {align: 'left', color: '#222'});
boxKey(673.3, 396, 10.7, 8, aaasBlue);
boxKey(673.3, 411.7, 10.7, 8, aaasRed);
T(690, 396, 'low', 7, {align: 'left', color: '#222'});
T(690, 411.7, 'high', 7, {align: 'left', color: '#222'});
T(528.3, 591.7, 'Ris', 9, {align: 'left', color: '#222'});
boxKey(529.3, 608.3, 11.4, 8, aaasBlue);
boxKey(529.3, 624.3, 11.4, 8, aaasRed);
T(674, 591.7, 'RiskGrou', 9, {align: 'left', color: '#222'});
boxKey(675.7, 608.3, 11, 8, aaasBlue);
boxKey(675.7, 624.3, 11, 8, aaasRed);
T(693, 608.3, 'low', 7, {align: 'left', color: '#222'});
T(693, 624.3, 'high', 7, {align: 'left', color: '#222'});

// F
T(79, 529.3, 'consensus matrix k=2', 5.5, {weight: 'bold', color: '#222'});
R(151.7, 549.3, 11.6, 16.7, null, '#777', 0.6);
R(153.5, 552.3, 3.6, 3.6, '#A6CEE3', '#555', 0.3);
R(153.5, 558.8, 3.6, 3.6, '#1F78B4', '#555', 0.3);
T(159, 554.1, '1', 4.5, {align: 'left', color: '#333'});
T(159, 560.6, '2', 4.5, {align: 'left', color: '#333'});

// G
T(213.3, 535.7, 'TCGA', 8.2, {align: 'left', color: '#222'});
T(223.3, 630, 'p = 0.011', 7.3, {align: 'left', color: '#222'});
T(178.3, 598, 'Survival probability', 7.5, {rot: rot, color: '#222'});
T(304, 668.3, 'Time', 7, {color: '#222'});
T(337, 531.7, 'Strata', 5, {align: 'left', color: '#222'});
L(341.7, 541.7, 350, 541.7, kmBlue, 1.2);
L(345.8, 539.7, 345.8, 543.7, kmBlue, 0.9);
L(341.7, 550.7, 350, 550.7, kmYellow, 1.2);
L(345.8, 548.7, 345.8, 552.7, kmYellow, 0.9);
T(352.5, 541.7, 'Cluster=1', 5.4, {align: 'left', color: '#222'});
T(352.5, 550.7, 'Cluster=2', 5.4, {align: 'left', color: '#222'});
T(213.3, 682.7, 'Number at risk', 8.5, {align: 'left', color: '#222'});
T(177, 697, 'Strata', 6, {rot: rot, color: '#222'});
T(304, 717.7, 'Time', 7, {color: '#222'});

// H
T(6, 863, 'TIDE score', 10, {rot: rot, color: '#111'});
T(95, 981, 'CC_cluster', 9.5, {color: '#111'});
T(175, 851.7, 'Cluster', 7, {align: 'left', color: '#222'});
boxKey(175.7, 863.3, 9.3, 7, jamaDark);
boxKey(175.7, 874.3, 9.3, 7, jamaOrange);
T(188, 863.3, 'clust', 4.5, {align: 'left', color: '#222'});
T(188, 874.3, 'clust', 4.5, {align: 'left', color: '#222'});

// I
T(221.7, 866, 'Proportion', 10, {rot: rot, color: '#111'});
T(318, 978.3, 'Risk', 11, {color: '#111'});
T(318.3, 775, 'Chi-squared P = 0.049', 6.5, {weight: 'bold', color: '#222'});
T(395, 850, 'IMvigor210 Outco', 8.5, {align: 'left', color: '#222'});
R(396.7, 857, 11.6, 11.6, '#FC8D62', '#222', 0.7);
R(396.7, 868.6, 11.6, 11.6, '#66C2A5', '#222', 0.7);
T(412, 863, 'Progressive_Disea', 6.5, {align: 'left', color: '#222'});
T(412, 874.5, 'Clinical_Benefit', 6.5, {align: 'left', color: '#222'});
T(474, 866.7, 'AAMRGS score', 10.6, {rot: rot, color: '#111'});
T(600.7, 974, 'IMvigor210 Response', 10.4, {color: '#111'});

var chart = echarts.init(document.getElementById('main'), null, {renderer: 'canvas'});
chart.setOption({
  animation: false,
  backgroundColor: '#fff',
  textStyle: {fontFamily: FONT},
  grid: grids,
  xAxis: xAxes,
  yAxis: yAxes,
  visualMap: visualMaps,
  series: series,
  graphic: {elements: graphics}
});
</script>
</body>
</html>
